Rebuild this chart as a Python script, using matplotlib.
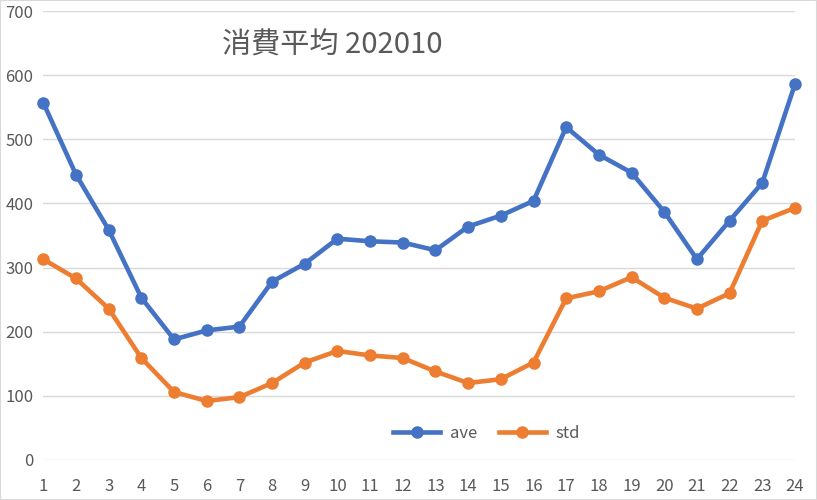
import matplotlib.pyplot as plt
from matplotlib.patches import Rectangle

plt.rcParams['font.family'] = ['Noto Sans CJK JP', 'DejaVu Sans']

hours = list(range(1, 25))
ave = [557, 445, 359, 253, 188, 202, 208, 278, 306, 345, 341, 339,
       327, 364, 381, 404, 519, 476, 448, 387, 313, 373, 432, 586]
std = [313, 283, 236, 159, 106, 92, 98, 120, 152, 170, 163, 159,
       138, 120, 126, 152, 252, 263, 285, 253, 236, 260, 373, 393]

fig = plt.figure(figsize=(8.17, 5), dpi=100)
ax = fig.add_axes([0.053, 0.08, 0.92, 0.898])

ax.plot(hours, ave, color='#4472C4', lw=3.3, marker='o', ms=8,
        label='ave', clip_on=False, zorder=3)
ax.plot(hours, std, color='#ED7D31', lw=3.3, marker='o', ms=8,
        label='std', clip_on=False, zorder=3)

ax.set_xlim(1, 24)
ax.set_ylim(0, 700)
ax.set_xticks(hours)
ax.set_yticks(range(0, 701, 100))
ax.grid(axis='y', color='#D9D9D9', lw=1)
ax.set_axisbelow(True)
for s in ax.spines.values():
    s.set_visible(False)
ax.tick_params(length=0, colors='#595959', labelsize=12)
ax.tick_params(axis='x', pad=13)
ax.tick_params(axis='y', pad=7)

ax.text(0.384, 0.922, '消費平均 202010', transform=ax.transAxes,
        ha='center', va='center', fontsize=21, color='#595959')

leg = ax.legend(loc='center', bbox_to_anchor=(0.59, 0.06), ncol=2,
                frameon=False, fontsize=12, handlelength=2.8,
                handletextpad=0.6, columnspacing=1.3)
for t in leg.get_texts():
    t.set_color('#595959')

fig.patches.append(Rectangle((0, 0), 1, 1, transform=fig.transFigure,
                             fill=False, ec='#D9D9D9', lw=1.5))

fig.savefig('out.png', dpi=100)
